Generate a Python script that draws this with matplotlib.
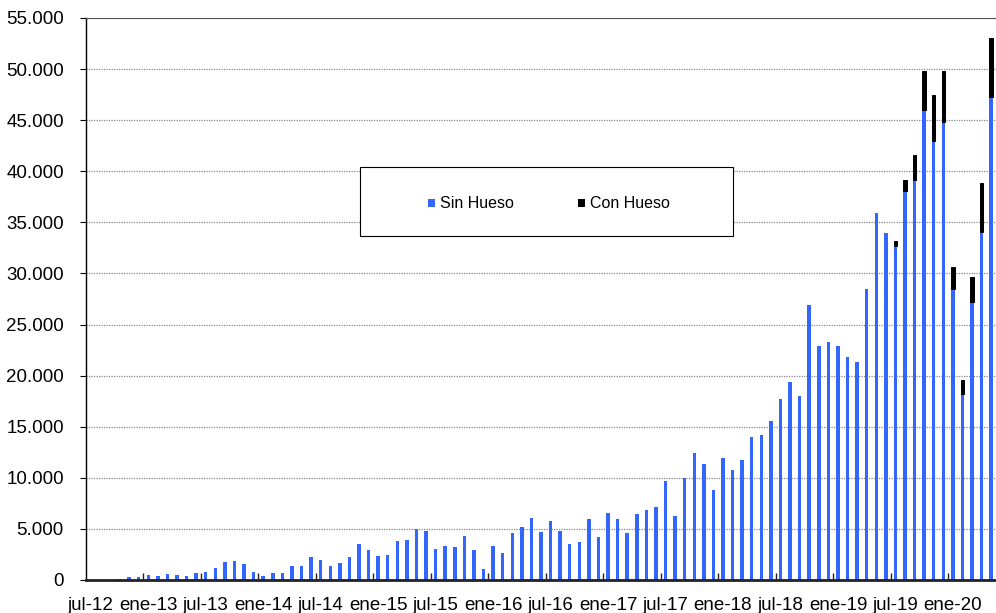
import matplotlib
matplotlib.use('Agg')
import matplotlib.pyplot as plt
from matplotlib.patches import Rectangle
from matplotlib.ticker import FuncFormatter, MultipleLocator
import numpy as np

plt.rcParams['font.family'] = ['Liberation Sans', 'DejaVu Sans']

# ── Datos: meses jul-12 .. may-20 ──
MESES = ['ene', 'feb', 'mar', 'abr', 'may', 'jun',
         'jul', 'ago', 'sep', 'oct', 'nov', 'dic']
categorias = []
for i in range(95):
    m = (6 + i) % 12
    a = 12 + (6 + i) // 12
    categorias.append(f'{MESES[m]}-{a}')

sin_hueso = [
    0, 0, 0, 80, 300, 330, 520, 360, 590, 490,
    430, 650, 820, 1150, 1770, 1870, 1600, 830, 425, 720,
    720, 1370, 1400, 2260, 1960, 1400, 1700, 2290, 3560, 2980,
    2390, 2450, 3830, 3920, 4970, 4800, 3070, 3370, 3240, 4280,
    2980, 1080, 3330, 2620, 4640, 5170, 6110, 4740, 5820, 4840,
    3500, 3760, 6010, 4250, 6570, 5950, 4640, 6440, 6830, 7160,
    9670, 6240, 10030, 12420, 11340, 8790, 11960, 10760, 11740, 13960,
    14220, 15560, 17750, 19380, 17970, 26900, 22910, 23330, 22940, 21800,
    21370, 28430, 35880, 33990, 32710, 38040, 39120, 46010, 42940, 44840,
    28460, 18240, 27250, 34090, 47250,
]
con_hueso = [0] * 84 + [460, 1080, 2510, 3790, 4540, 4930, 2130, 1370, 2450, 4770, 5790]

# ── Figura ──
fig = plt.figure(figsize=(9.96, 6.13), dpi=100)
ax = fig.add_axes([86 / 996, 1 - 580 / 613, 910 / 996, (580 - 18) / 613])

x = np.arange(len(categorias))
b1 = ax.bar(x, sin_hueso, width=0.36, color='#3366ff', label='Sin Hueso', zorder=3)
lw_con = [0.7 if v > 0 else 0 for v in con_hueso]
b2 = ax.bar(x, con_hueso, width=0.36, bottom=sin_hueso, color='black',
            edgecolor='black', linewidth=lw_con, label='Con Hueso', zorder=3)

ax.set_xlim(-0.5, len(categorias) - 0.5)
ax.set_ylim(0, 55000)
ax.yaxis.set_major_locator(MultipleLocator(5000))
ax.yaxis.set_major_formatter(FuncFormatter(lambda v, p: f'{int(v):,}'.replace(',', '.')))
ax.grid(axis='y', color='#888888', linestyle=(0, (1, 1)), linewidth=0.9, zorder=0)

# etiquetas cada 6 meses centradas en la categoría, marcas en los bordes
lab_idx = list(range(0, len(categorias), 6))
ax.set_xticks([i - 0.5 for i in lab_idx[1:]])
ax.set_xticklabels([])
ax.tick_params(axis='x', which='major', direction='in', length=5, width=1, color='#222222')
ax.set_xticks(lab_idx, minor=True)
ax.set_xticklabels([categorias[i] for i in lab_idx], minor=True)
ax.tick_params(axis='x', which='minor', length=0, pad=12, labelsize=13.5)
ax.tick_params(axis='y', direction='out', length=4, width=0.8, pad=12, labelsize=13.5)

ax.spines['right'].set_visible(False)
ax.spines['top'].set_color('#555555')
ax.spines['top'].set_linewidth(0.8)
ax.spines['left'].set_linewidth(1.0)
ax.spines['bottom'].set_linewidth(2.0)
ax.spines['bottom'].set_color('#222222')
ax.spines['bottom'].set_zorder(4)

# Leyenda en recuadro
fig.add_artist(Rectangle((360 / 996, 1 - 236 / 613), 373 / 996, 69 / 613,
                         transform=fig.transFigure, facecolor='white',
                         edgecolor='black', linewidth=0.8, zorder=5))
leg = fig.legend(handles=[b1, b2], loc='center', bbox_to_anchor=(549 / 996, 1 - 204 / 613),
                 ncol=2, frameon=False, fontsize=11.5, handlelength=0.45,
                 handleheight=0.45, handletextpad=0.3, columnspacing=4.0)
leg.set_zorder(6)

fig.savefig('out.png', dpi=100)
